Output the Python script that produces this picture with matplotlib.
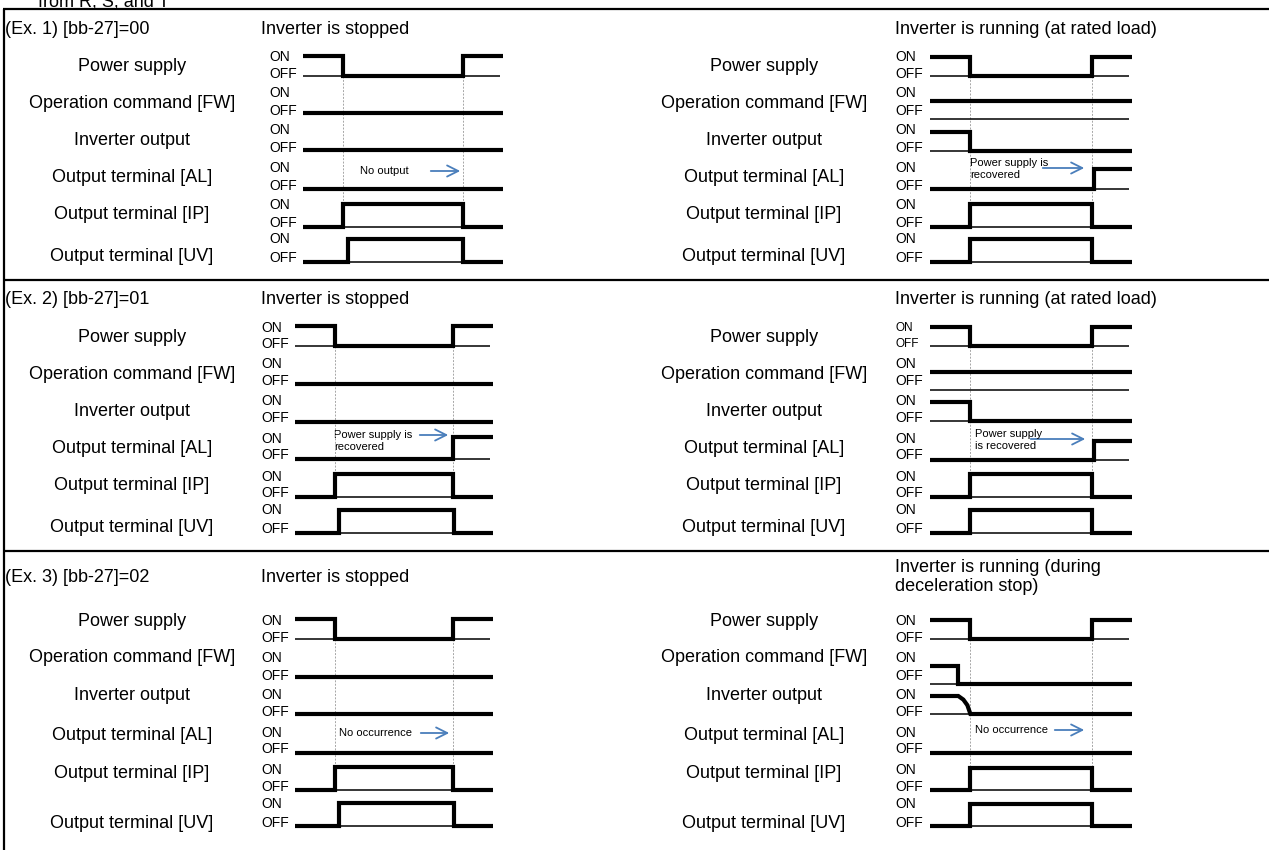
import matplotlib
matplotlib.use("Agg")
import matplotlib.pyplot as plt
from matplotlib.patches import FancyArrowPatch

# ---------------- data ----------------
signals = ["Power supply", "Operation command [FW]", "Inverter output",
           "Output terminal [AL]", "Output terminal [IP]", "Output terminal [UV]"]
example_titles = ["(Ex. 1) [bb-27]=00", "(Ex. 2) [bb-27]=01", "(Ex. 3) [bb-27]=02"]
stopped_title = "Inverter is stopped"
running_titles = ["Inverter is running (at rated load)",
                  "Inverter is running (at rated load)",
                  "Inverter is running (during\ndeceleration stop)"]
top_text = "from R, S, and T"
state_labels = ["ON", "OFF"]
power_off_time = 2.0
power_on_time = 8.0

# waveforms: lists of (time, level) points; time 0..10, level 0=OFF, 1=ON
power = [(0, 1), (2, 1), (2, 0), (8, 0), (8, 1), (10, 1)]
always_off = [(0, 0), (10, 0)]
always_on = [(0, 1), (10, 1)]
ip_wave = [(0, 0), (2, 0), (2, 1), (8, 1), (8, 0), (10, 0)]
uv_ex1_stop = [(0, 0), (2.25, 0), (2.25, 1), (8.0, 1), (8.0, 0), (10, 0)]
uv_ex23_stop = [(0, 0), (2.2, 0), (2.2, 1), (8.05, 1), (8.05, 0), (10, 0)]
uv_run = [(0, 0), (2, 0), (2, 1), (8, 1), (8, 0), (10, 0)]
inv_run = [(0, 1), (2, 1), (2, 0), (10, 0)]
al_recover_stop = [(0, 0), (8, 0), (8, 1), (10, 1)]
al_recover_run = [(0, 0), (8.1, 0), (8.1, 1), (10, 1)]
fw_decel = [(0, 1), (1.4, 1), (1.4, 0), (10, 0)]
inv_decel = [(0, 1), (1.4, 1), (1.65, 0.8), (1.85, 0.49), (2.0, 0), (10, 0)]

panels = [
    # (section, side, waveforms per signal, annotation text)
    (0, 0, [power, always_off, always_off, always_off, ip_wave, uv_ex1_stop], "No output"),
    (0, 1, [power, always_on, inv_run, al_recover_run, ip_wave, uv_run], "Power supply is\nrecovered"),
    (1, 0, [power, always_off, always_off, al_recover_stop, ip_wave, uv_ex23_stop], "Power supply is\nrecovered"),
    (1, 1, [power, always_on, inv_run, al_recover_run, ip_wave, uv_run], "Power supply\nis recovered"),
    (2, 0, [power, always_off, always_off, always_off, ip_wave, uv_ex23_stop], "No occurrence"),
    (2, 1, [power, fw_decel, inv_decel, always_off, ip_wave, uv_run], "No occurrence"),
]

# ---------------- layout (pixels) ----------------
W, H = 1269, 850
FONT = ["Liberation Sans Narrow", "Liberation Sans", "DejaVu Sans"]
BLUE = "#4a7ebb"
FS_MAIN = 13
FS_ONOFF = 10
FS_NOTE = 8

fig = plt.figure(figsize=(W / 100, H / 100), dpi=100)
ax = fig.add_axes([0, 0, 1, 1])
ax.set_xlim(0, W)
ax.set_ylim(H, 0)
ax.axis("off")

# frame
ax.plot([4, 4], [9, H + 5], color="black", lw=1.6, solid_capstyle="butt")
for yy in [9, 280, 551]:
    ax.plot([3, W + 5], [yy, yy], color="black", lw=1.6, solid_capstyle="butt")
ax.text(38, 6, top_text, fontsize=FS_MAIN, family=FONT, va="baseline", ha="left")

header_y = [29, 300, 577]
label_y = [[66, 103, 140, 177, 214, 256],
           [337, 374, 411, 448, 485, 527],
           [621, 658, 696, 735, 773, 824]]
label_x = [132, 764]
onoff_x = [[269, 895], [261, 895], [261, 895]]
on_y = [[57, 93, 130, 168, 205, 239],
        [328, 364, 401, 439, 477, 510],
        [621, 658, 695, 733, 770, 804]]
off_y = [[74, 111, 148, 186, 223, 258],
         [344, 381, 418, 455, 493, 529],
         [638, 676, 712, 749, 787, 823]]
wave_x = [[(303, 503), (930, 1132)], [(295, 493), (930, 1132)], [(295, 493), (930, 1132)]]
row_off = {
    (0, 0): [76, 113, 150, 189, 227, 262],
    (0, 1): [76, 119, 151, 189, 227, 262],
    (1, 0): [346, 384, 422, 459, 497, 533],
    (1, 1): [346, 390, 421, 460, 497, 533],
    (2, 0): [639, 677, 714, 753, 790, 826],
    (2, 1): [639, 684, 714, 753, 790, 826],
}
row_amp = {
    (0, 1): [19, 18, 19, 20, 23, 23],
    (1, 1): [19, 18, 19, 19, 23, 23],
    (2, 1): [19, 18, 18, 20, 22, 22],
}
annot_pos = {
    (0, 0): (360, 171, 428, 463, 171),
    (0, 1): (970, 169, 1040, 1087, 168),
    (1, 0): (334, 441, 417, 451, 435),
    (1, 1): (975, 440, 1028, 1088, 439),
    (2, 0): (339, 733, 418, 452, 733),
    (2, 1): (975, 730, 1052, 1087, 730),
}

for s in range(3):
    ax.text(5, header_y[s], example_titles[s], fontsize=FS_MAIN, family=FONT, va="center", ha="left")
    ax.text(261, header_y[s], stopped_title, fontsize=FS_MAIN, family=FONT, va="center", ha="left")
    ax.text(895, header_y[s], running_titles[s], fontsize=FS_MAIN, family=FONT, va="center",
            ha="left", linespacing=1.2)
    for side in range(2):
        for i, name in enumerate(signals):
            ax.text(label_x[side], label_y[s][i], name, fontsize=FS_MAIN, family=FONT,
                    va="center", ha="center")
            fs = FS_ONOFF
            if s == 1 and side == 1 and i == 0:
                fs = 8.5
            ax.text(onoff_x[s][side], on_y[s][i], state_labels[0], fontsize=fs, family=FONT,
                    va="center", ha="left")
            ax.text(onoff_x[s][side], off_y[s][i], state_labels[1], fontsize=fs, family=FONT,
                    va="center", ha="left")

for (s, side, waves, note) in panels:
    x0, x1 = wave_x[s][side]
    offs = row_off[(s, side)]
    amps = row_amp.get((s, side), [20, 21, 21, 22, 23, 23])
    # panel axes: x in time units, y in pixel rows (inverted)
    pax = fig.add_axes([x0 / W, 0, (x1 - x0) / W, 1])
    pax.set_xlim(0, 10)
    pax.set_ylim(H, 0)
    pax.axis("off")
    pax.patch.set_alpha(0)
    # dashed guide lines
    for t in [power_off_time, power_on_time]:
        pax.plot([t, t], [offs[0], offs[4] - amps[4]], color="#a6a6a6", lw=0.7,
                 ls=(0, (2, 1.5)), zorder=1)
    for i, wave in enumerate(waves):
        base = offs[i]
        amp = amps[i]
        pax.plot([0, 9.85], [base, base], color="black", lw=1.1, zorder=2,
                 solid_capstyle="butt")
        ts = [p[0] for p in wave]
        ys = [base - p[1] * amp for p in wave]
        pax.plot(ts, ys, color="black", lw=3.0, zorder=3, solid_joinstyle="miter",
                 solid_capstyle="butt")
    tx, ty, ax0, ax1, ay = annot_pos[(s, side)]
    ax.text(tx, ty, note, fontsize=FS_NOTE, family=FONT, va="center", ha="left",
            linespacing=1.15)
    arr = FancyArrowPatch((ax0, ay), (ax1, ay), arrowstyle="->,head_length=8,head_width=4",
                          color=BLUE, lw=1.3, mutation_scale=1)
    ax.add_patch(arr)

fig.savefig("out.png", dpi=100)
